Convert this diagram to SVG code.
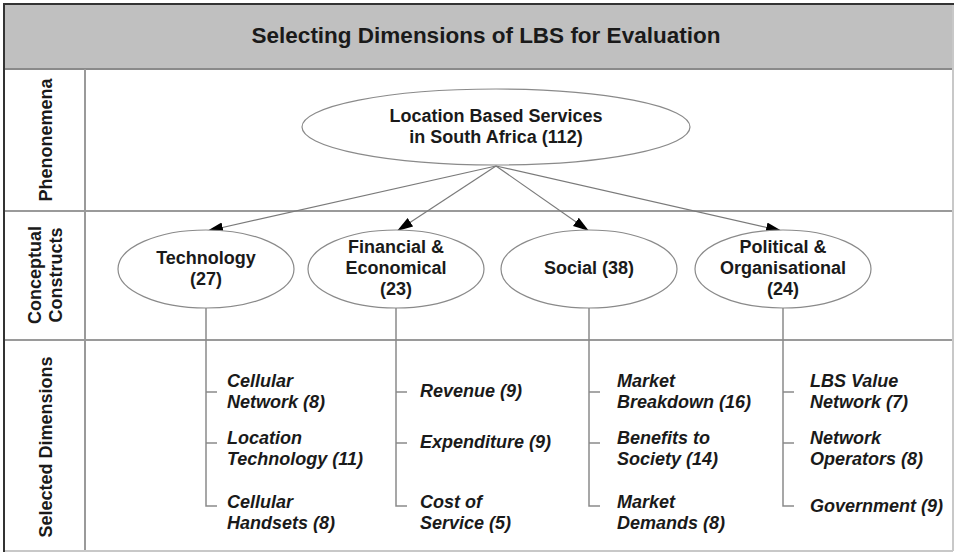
<svg xmlns="http://www.w3.org/2000/svg" width="955" height="553" viewBox="0 0 955 553">
<style>
text{font-family:"Liberation Sans",Arial,sans-serif;fill:#1a1a1a;font-weight:bold}
.t{font-size:22.5px}
.n{font-size:18px;text-anchor:middle}
.r{font-size:18px;text-anchor:middle}
.d{font-size:18px;font-style:italic}
.grid{stroke:#9a9a9a;stroke-width:2;fill:none}
.ell{fill:#fff;stroke:#8a8a8a;stroke-width:1.2}
.con{stroke:#7a7a7a;stroke-width:1.2;fill:none}
.br{stroke:#8a8a8a;stroke-width:1.5;fill:none}
</style>
<defs>
<marker id="ah" markerUnits="userSpaceOnUse" markerWidth="18" markerHeight="12" refX="16" refY="5" orient="auto">
<path d="M0,0 L16,5 L0,10 z" fill="#000"/>
</marker>
</defs>
<rect x="0" y="0" width="955" height="553" fill="#fff"/>
<g id="frame">
<rect x="4" y="4" width="949" height="65" fill="#c0c0c0"/>
<line class="grid" x1="4" y1="69" x2="953" y2="69" style="stroke:#8a8a8a"/>
<line class="grid" x1="4" y1="211" x2="953" y2="211"/>
<line class="grid" x1="4" y1="340" x2="953" y2="340"/>
<line class="grid" x1="85" y1="69" x2="85" y2="551"/>
<line x1="953" y1="4" x2="953" y2="551" stroke="#c8c8c8" stroke-width="2"/>
<line x1="4" y1="551" x2="953" y2="551" stroke="#c8c8c8" stroke-width="2"/>
<line x1="3" y1="4" x2="954" y2="4" stroke="#333" stroke-width="2"/>
<line x1="4" y1="3" x2="4" y2="552" stroke="#333" stroke-width="2"/>
<text class="t" x="486" y="43" text-anchor="middle">Selecting Dimensions of LBS for Evaluation</text>
</g>
<g id="row-labels">
<text class="r" transform="translate(51.5 140) rotate(-90)">Phenonemena</text>
<text class="r" transform="translate(40.5 275) rotate(-90)">Conceptual</text>
<text class="r" transform="translate(61.5 275) rotate(-90)">Constructs</text>
<text class="r" transform="translate(51.5 447) rotate(-90)">Selected Dimensions</text>
</g>
<g id="connectors">
<line class="con" x1="496" y1="166" x2="207" y2="231" marker-end="url(#ah)"/>
<line class="con" x1="496" y1="166" x2="397" y2="231" marker-end="url(#ah)"/>
<line class="con" x1="496" y1="166" x2="589" y2="231" marker-end="url(#ah)"/>
<line class="con" x1="496" y1="166" x2="782" y2="231" marker-end="url(#ah)"/>
<path class="br" d="M206,308 V506 H217 M206,392 H217 M206,443 H217"/>
<path class="br" d="M396,308 V506 H407 M396,392 H407 M396,443 H407"/>
<path class="br" d="M589,308 V506 H600 M589,392 H600 M589,443 H600"/>
<path class="br" d="M783,308 V506 H794 M783,392 H794 M783,443 H794"/>
</g>
<g id="lbs">
<ellipse class="ell" cx="496" cy="127" rx="194" ry="38"/>
<text class="n" x="496" y="122">Location Based Services</text>
<text class="n" x="496" y="143">in South Africa (112)</text>
</g>
<g id="technology">
<ellipse class="ell" cx="206" cy="269" rx="88" ry="39"/>
<text class="n" x="206" y="264">Technology</text>
<text class="n" x="206" y="285">(27)</text>
</g>
<g id="financial">
<ellipse class="ell" cx="396" cy="269" rx="88" ry="39"/>
<text class="n" x="396" y="253">Financial &amp;</text>
<text class="n" x="396" y="274">Economical</text>
<text class="n" x="396" y="295">(23)</text>
</g>
<g id="social">
<ellipse class="ell" cx="589" cy="269" rx="88" ry="39"/>
<text class="n" x="589" y="274">Social (38)</text>
</g>
<g id="political">
<ellipse class="ell" cx="783" cy="269" rx="88" ry="39"/>
<text class="n" x="783" y="253">Political &amp;</text>
<text class="n" x="783" y="274">Organisational</text>
<text class="n" x="783" y="295">(24)</text>
</g>
<g id="tech-dims">
<text class="d" x="227" y="387">Cellular</text>
<text class="d" x="227" y="408">Network (8)</text>
<text class="d" x="227" y="444">Location</text>
<text class="d" x="227" y="465">Technology (11)</text>
<text class="d" x="227" y="508">Cellular</text>
<text class="d" x="227" y="529">Handsets (8)</text>
</g>
<g id="fin-dims">
<text class="d" x="420" y="397">Revenue (9)</text>
<text class="d" x="420" y="448">Expenditure (9)</text>
<text class="d" x="420" y="508">Cost of</text>
<text class="d" x="420" y="529">Service (5)</text>
</g>
<g id="social-dims">
<text class="d" x="617" y="387">Market</text>
<text class="d" x="617" y="408">Breakdown (16)</text>
<text class="d" x="617" y="444">Benefits to</text>
<text class="d" x="617" y="465">Society (14)</text>
<text class="d" x="617" y="508">Market</text>
<text class="d" x="617" y="529">Demands (8)</text>
</g>
<g id="pol-dims">
<text class="d" x="810" y="387">LBS Value</text>
<text class="d" x="810" y="408">Network (7)</text>
<text class="d" x="810" y="444">Network</text>
<text class="d" x="810" y="465">Operators (8)</text>
<text class="d" x="810" y="512">Government (9)</text>
</g>
</svg>
